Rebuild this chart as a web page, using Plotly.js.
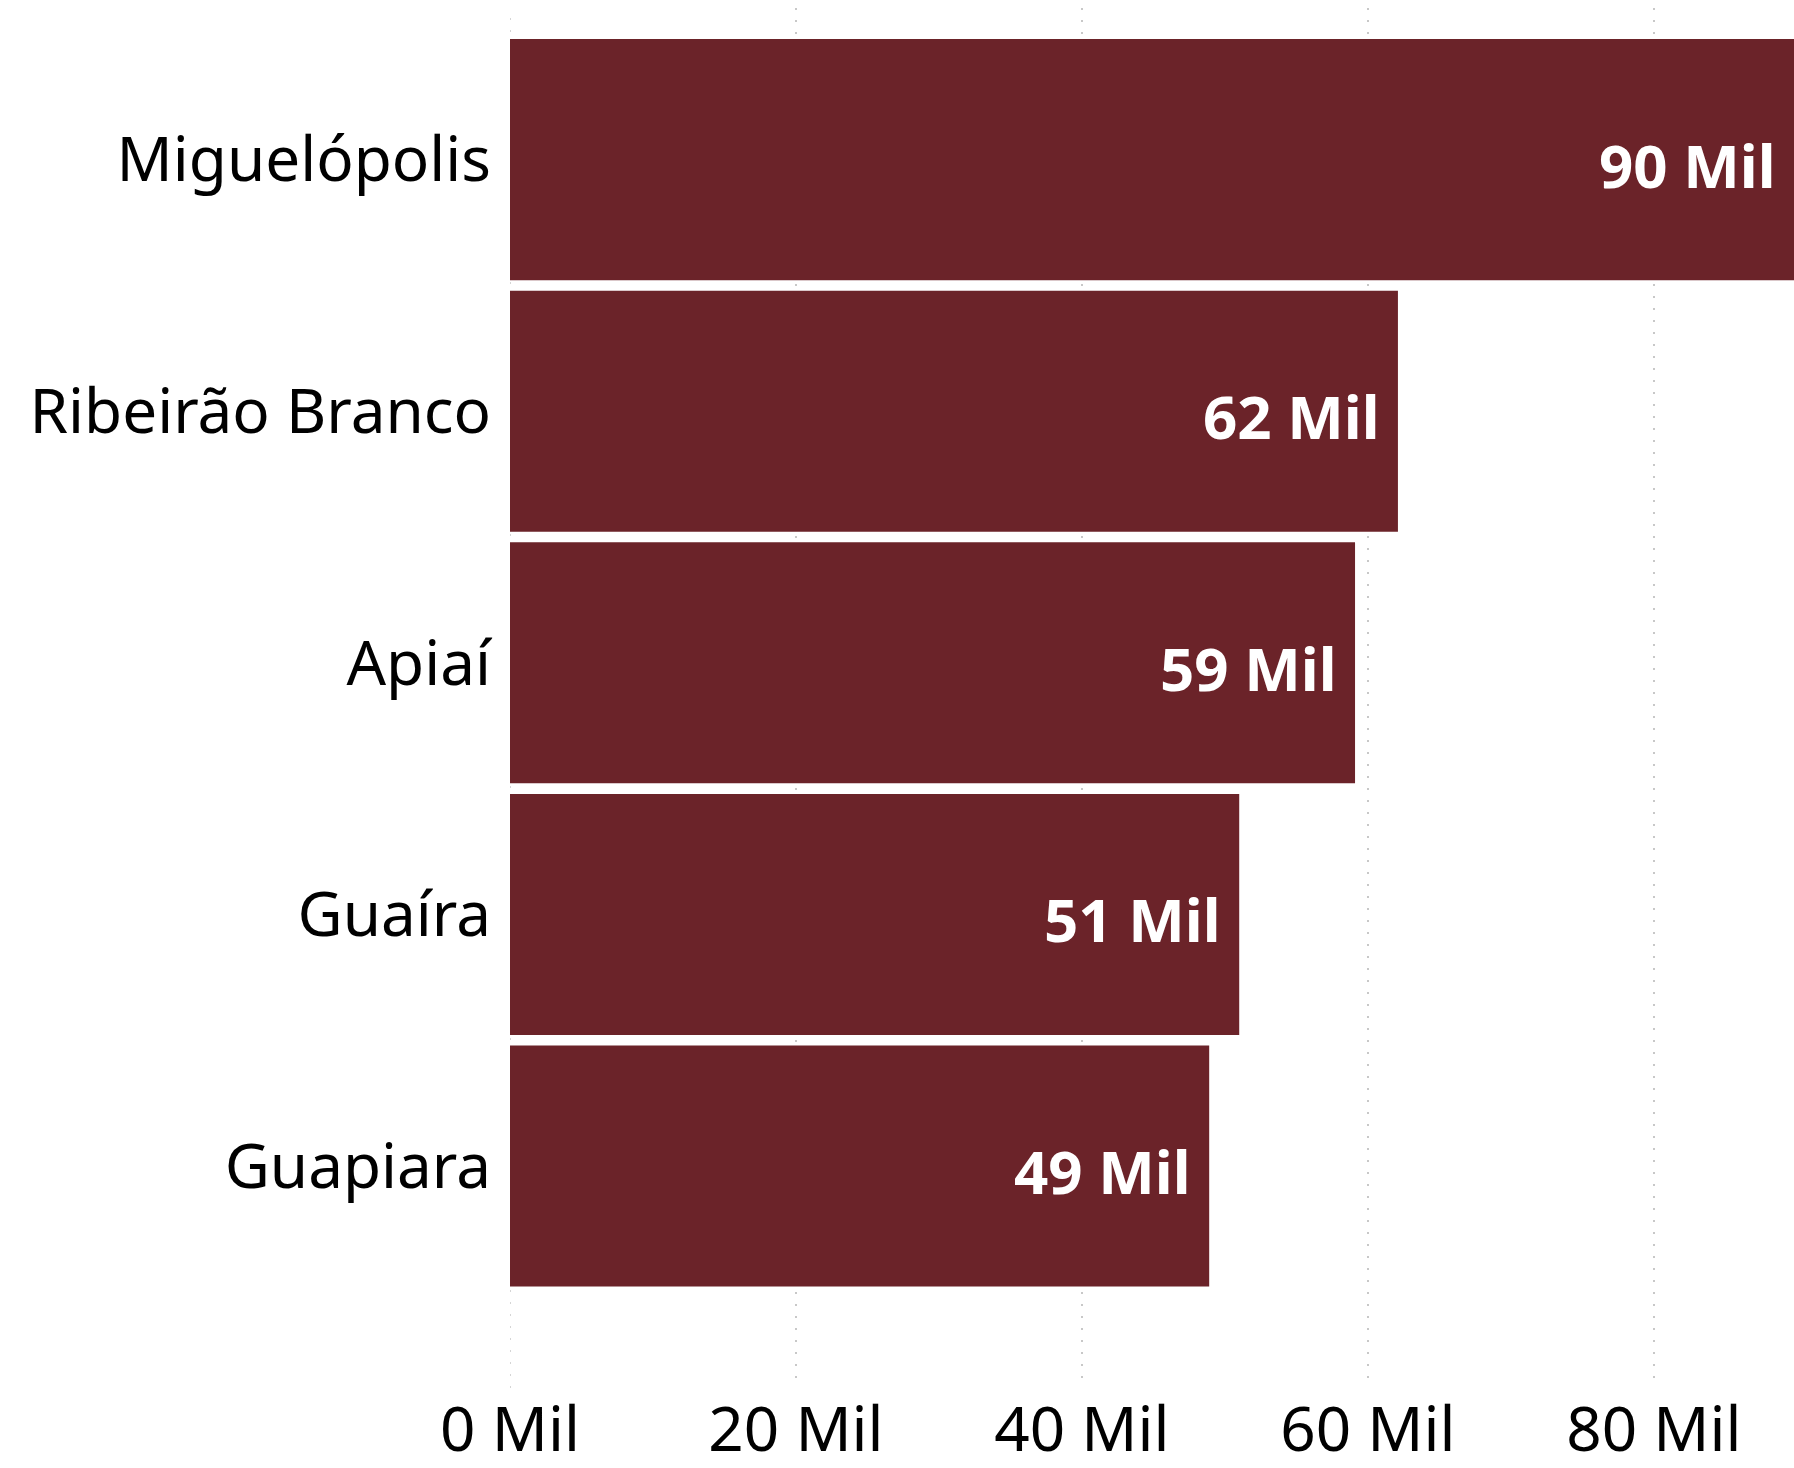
<!DOCTYPE html>
<html>
<head>
<meta charset="utf-8">
<script src="https://cdn.plot.ly/plotly-3.0.1.min.js"></script>
<style>
  html, body { margin: 0; padding: 0; background: #ffffff; }
  #chart { width: 1794px; height: 1468px; }
</style>
</head>
<body>
<div id="chart"></div>
<script>
// Data (values in thousands, "Mil")
const cities = ["Miguelópolis", "Ribeirão Branco", "Apiaí", "Guaíra", "Guapiara"];
const values = [89.8, 62.1, 59.1, 51.0, 48.9];
const tickVals = [0, 20, 40, 60, 80];
const tickText = ["0 Mil", "20 Mil", "40 Mil", "60 Mil", "80 Mil"];
const labels = values.map(v => Math.round(v) + " Mil");

const barColor = "#6B2329";
const gridColor = "#C8C8C8";
const fontFamily = "'Noto Sans', 'Open Sans', sans-serif";

const trace = {
  type: "bar",
  orientation: "h",
  x: values,
  y: cities,
  marker: { color: barColor, line: { width: 0 } },
  hoverinfo: "none",
  cliponaxis: true
};

const annotations = cities.map((c, i) => ({
  x: values[i],
  y: c,
  xref: "x",
  yref: "y",
  text: labels[i],
  showarrow: false,
  xanchor: "right",
  yanchor: "middle",
  xshift: -16,
  yshift: -5,
  font: { family: fontFamily, size: 60, color: "#ffffff", weight: 700 }
}));

// dotted gridline at the axis origin (Plotly omits the grid line on the plot edge)
const shapes = [{
  type: "line",
  xref: "x",
  yref: "paper",
  x0: tickVals[0], x1: tickVals[0],
  y0: 0, y1: 1,
  layer: "below",
  line: { color: gridColor, width: 1.5, dash: "2px,10px" }
}];

const layout = {
  width: 1794,
  height: 1468,
  margin: { l: 510, r: 0, t: 8, b: 80, pad: 0 },
  paper_bgcolor: "#ffffff",
  plot_bgcolor: "#ffffff",
  showlegend: false,
  bargap: 0.042,
  font: { family: fontFamily, color: "#000000" },
  xaxis: {
    range: [0, 89.8],
    tickmode: "array",
    tickvals: tickVals,
    ticktext: tickText,
    showgrid: true,
    gridcolor: gridColor,
    gridwidth: 1.5,
    griddash: "2px,10px",
    zeroline: false,
    showline: false,
    ticks: "",
    ticklabelstandoff: 0,
    tickfont: { family: fontFamily, size: 62, color: "#000000" },
    fixedrange: true
  },
  yaxis: {
    type: "category",
    categoryorder: "array",
    categoryarray: cities,
    range: [4.882, -0.6025],
    showgrid: false,
    zeroline: false,
    showline: false,
    ticks: "",
    ticklabelstandoff: 18,
    tickfont: { family: fontFamily, size: 62, color: "#000000" },
    fixedrange: true
  },
  shapes: shapes,
  annotations: annotations
};

Plotly.newPlot("chart", [trace], layout, { displayModeBar: false, staticPlot: true });
</script>
</body>
</html>
